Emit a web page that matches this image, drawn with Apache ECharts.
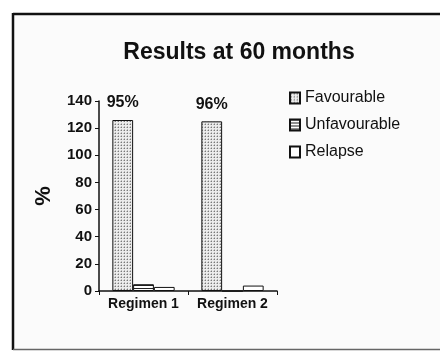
<!DOCTYPE html>
<html>
<head>
<meta charset="utf-8">
<script src="https://cdn.jsdelivr.net/npm/echarts@6/dist/echarts.min.js"></script>
<style>
  html, body { margin: 0; padding: 0; background: #fff; }
  #chart { width: 440px; height: 352px; }
</style>
</head>
<body>
<div id="chart"></div>
<script>
// Outcome counts per regimen
const categories = ['Regimen 1', 'Regimen 2'];
const favourable = [126, 125];
const unfavourable = [5, 0];
const relapse = [3, 4];
const favourableLabels = ['95%', '96%'];
const yMin = 0, yMax = 140, yStep = 20;

const FONT = '"Liberation Sans", Arial, sans-serif';

// Dotted fill for the favourable bars
function dotPattern() {
  const c = document.createElement('canvas');
  c.width = 3; c.height = 3;
  const g = c.getContext('2d');
  g.fillStyle = '#ececec';
  g.fillRect(0, 0, 3, 3);
  g.fillStyle = '#7a7a7a';
  g.fillRect(1, 1, 1, 1);
  g.fillStyle = '#bdbdbd';
  g.fillRect(0, 1, 1, 1);
  g.fillRect(1, 0, 1, 1);
  return c;
}
// Horizontal stripes for the unfavourable bars
function stripePattern() {
  const c = document.createElement('canvas');
  c.width = 3; c.height = 3;
  const g = c.getContext('2d');
  g.fillStyle = '#ffffff';
  g.fillRect(0, 0, 3, 3);
  g.fillStyle = '#222222';
  g.fillRect(0, 0, 3, 1);
  return c;
}

const chart = echarts.init(document.getElementById('chart'), null, { renderer: 'canvas' });

const option = {
  backgroundColor: '#ffffff',
  animation: false,
  textStyle: { fontFamily: FONT, color: '#000' },
  graphic: [
    { type: 'rect', z: -10, silent: true,
      shape: { x: 13, y: 14, width: 440, height: 335 },
      style: { fill: '#fbfbfb', stroke: null } },
    { type: 'line', z: 100, silent: true,
      shape: { x1: 13, y1: 14, x2: 440, y2: 14 },
      style: { stroke: '#111', lineWidth: 2.5 } },
    { type: 'line', z: 100, silent: true,
      shape: { x1: 13, y1: 13, x2: 13, y2: 350 },
      style: { stroke: '#111', lineWidth: 2.5 } },
    { type: 'line', z: 100, silent: true,
      shape: { x1: 13, y1: 349.5, x2: 440, y2: 349.5 },
      style: { stroke: '#666', lineWidth: 1.5 } }
  ],
  title: {
    text: 'Results at 60 months',
    left: 234, top: 36, textAlign: 'center',
    textStyle: { fontFamily: FONT, fontSize: 23, fontWeight: 'bold', color: '#111' }
  },
  legend: {
    orient: 'vertical',
    left: 289, top: 90,
    padding: 0,
    itemWidth: 10, itemHeight: 11, itemGap: 11,
    icon: 'rect',
    textStyle: { fontFamily: FONT, fontSize: 16, color: '#111', padding: [0, 0, 0, 0] },
    data: ['Favourable', 'Unfavourable', 'Relapse']
  },
  grid: { left: 99, right: 163, top: 101, bottom: 61, containLabel: false },
  xAxis: {
    type: 'category',
    data: categories,
    axisLine: { lineStyle: { color: '#111', width: 1.5 } },
    axisTick: { show: true, length: 4, lineStyle: { color: '#111' } },
    axisLabel: { interval: 0, hideOverlap: false, fontFamily: FONT, fontSize: 14, fontWeight: 'bold', color: '#111', margin: 6 }
  },
  yAxis: {
    type: 'value',
    min: yMin, max: yMax, interval: yStep,
    name: '%',
    nameLocation: 'middle',
    nameRotate: 90,
    nameGap: 44,
    nameTextStyle: { fontFamily: FONT, fontSize: 22, fontWeight: 'bold', color: '#111' },
    axisLine: { show: true, lineStyle: { color: '#111', width: 1.5 } },
    axisTick: { show: true, length: 4, lineStyle: { color: '#111' } },
    splitLine: { show: false },
    axisLabel: { fontFamily: FONT, fontSize: 15, fontWeight: 'bold', color: '#111', margin: 7 }
  },
  series: [
    {
      name: 'Favourable', type: 'bar', data: favourable,
      barGap: '0%', barCategoryGap: '30%',
      itemStyle: { color: { image: dotPattern(), repeat: 'repeat' }, borderColor: '#111', borderWidth: 1 },
      label: {
        show: true, position: 'top', distance: 9,
        formatter: p => favourableLabels[p.dataIndex],
        fontFamily: FONT, fontSize: 16, fontWeight: 'bold', color: '#111'
      }
    },
    {
      name: 'Unfavourable', type: 'bar', data: unfavourable,
      itemStyle: { color: { image: stripePattern(), repeat: 'repeat' }, borderColor: '#111', borderWidth: 1 }
    },
    {
      name: 'Relapse', type: 'bar', data: relapse,
      itemStyle: { color: '#ffffff', borderColor: '#111', borderWidth: 1 }
    }
  ]
};

chart.setOption(option);
</script>
</body>
</html>
